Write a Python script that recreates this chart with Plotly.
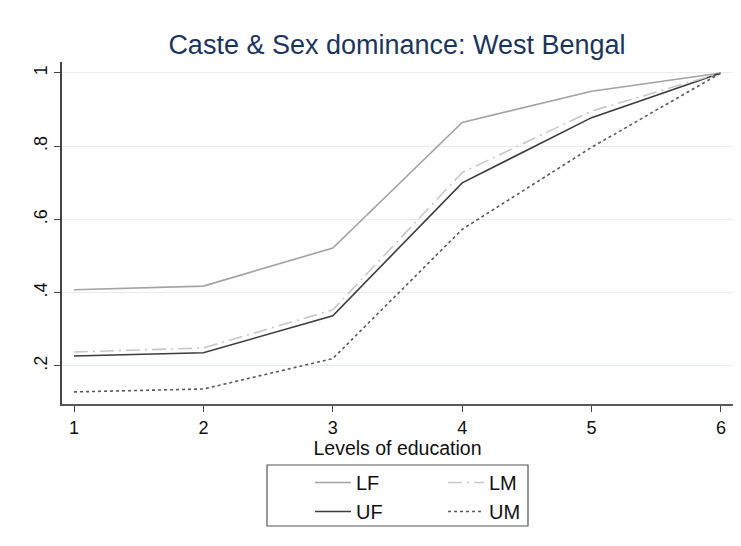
import plotly.graph_objects as go

levels = [1, 2, 3, 4, 5, 6]
LF = [0.408, 0.418, 0.522, 0.865, 0.950, 1.0]
LM = [0.238, 0.249, 0.353, 0.728, 0.896, 1.0]
UF = [0.227, 0.236, 0.337, 0.700, 0.878, 1.0]
UM = [0.129, 0.137, 0.220, 0.573, 0.797, 1.0]
yticks = [0.2, 0.4, 0.6, 0.8, 1.0]
yticklabels = [".2", ".4", ".6", ".8", "1"]

W, H = 741, 546
L, R, T, B = 54, 16, 54, 150
OFF = 8  # page body offset

FONT = "Liberation Sans, Arial, sans-serif"

fig = go.Figure()
fig.add_trace(go.Scatter(x=levels, y=LF, name="LF", mode="lines",
                         line=dict(color="#a3a3a3", width=1.6), legend="legend"))
fig.add_trace(go.Scatter(x=levels, y=UF, name="UF", mode="lines",
                         line=dict(color="#3c3c3c", width=1.6), legend="legend"))
fig.add_trace(go.Scatter(x=levels, y=LM, name="LM", mode="lines",
                         line=dict(color="#c8c8c8", width=1.6, dash="14px,5px,2px,5px"), legend="legend2"))
fig.add_trace(go.Scatter(x=levels, y=UM, name="UM", mode="lines",
                         line=dict(color="#5a5a5a", width=1.6, dash="3px,3px"), legend="legend2"))

def px2paper_x(px):
    return (px - OFF - L) / (W - L - R)

def px2paper_y(py):
    return (H - B - (py - OFF)) / (H - B - T)

fig.add_shape(type="rect", xref="paper", yref="paper",
              x0=px2paper_x(267), x1=px2paper_x(528),
              y0=px2paper_y(465), y1=px2paper_y(526),
              line=dict(color="#555555", width=1.2), fillcolor="rgba(0,0,0,0)")

legend_common = dict(xanchor="left", yanchor="top",
                     bgcolor="rgba(0,0,0,0)", borderwidth=0,
                     font=dict(family=FONT, size=20, color="#111111"),
                     tracegroupgap=0, itemwidth=36)

fig.update_layout(
    width=W, height=H,
    margin=dict(l=L, r=R, t=T, b=B, autoexpand=False),
    paper_bgcolor="white", plot_bgcolor="white",
    title=dict(text="Caste & Sex dominance: West Bengal", x=(397 - OFF) / W, xanchor="center",
               y=1 - (45 - OFF) / H, yanchor="middle",
               font=dict(family=FONT, size=27, color="#1c355e")),
    xaxis=dict(range=[0.907, 6.093], tickvals=levels, ticktext=[str(v) for v in levels],
               showgrid=False, zeroline=False, showline=True, linecolor="#5a5a5a", linewidth=1.8,
               ticks="outside", ticklen=6, tickcolor="#444444",
               tickfont=dict(family=FONT, size=18, color="#111111"),
               title=dict(text="Levels of education", standoff=0,
                          font=dict(family=FONT, size=19.5, color="#111111"))),
    yaxis=dict(range=[0.096, 1.03], tickvals=yticks, ticktext=yticklabels, tickangle=-90,
               showgrid=True, gridcolor="#e6eef1", gridwidth=1, zeroline=False,
               showline=True, linecolor="#444444", linewidth=1.5,
               ticks="outside", ticklen=6, tickcolor="#444444",
               tickfont=dict(family=FONT, size=18, color="#111111")),
    legend=dict(x=px2paper_x(310), y=px2paper_y(463), **legend_common),
    legend2=dict(x=px2paper_x(443), y=px2paper_y(463), **legend_common),
)

fig.write_html("out.html")
